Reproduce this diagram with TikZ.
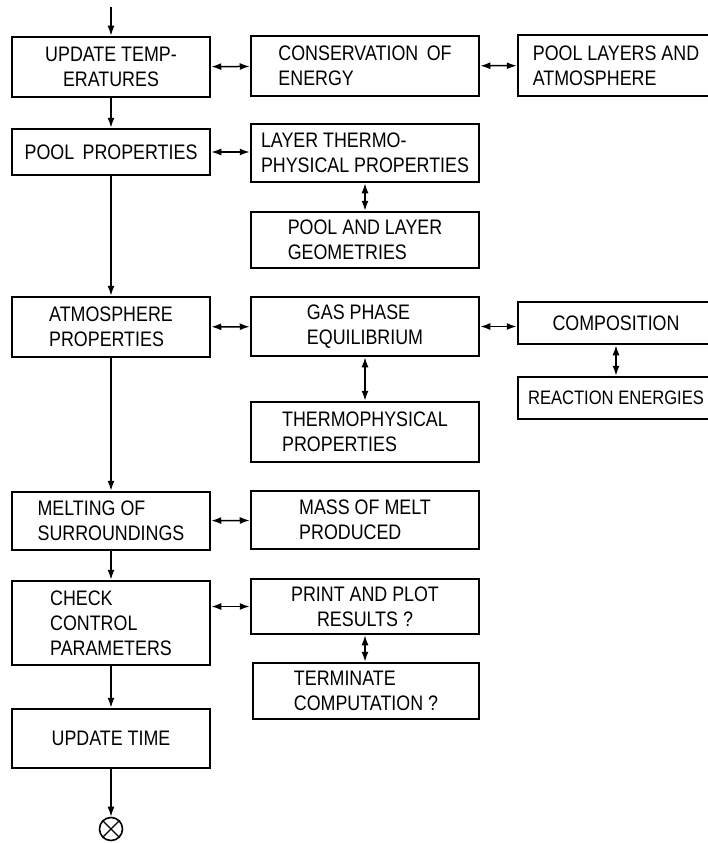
\documentclass[tikz,border=0pt]{standalone}
\usepackage{fontspec}
\setmainfont{Liberation Sans}[FakeStretch=0.85]
\usepackage{tikz}
\usetikzlibrary{arrows.meta}
\tikzstyle{box}=[draw=black,line width=2.5pt,inner sep=2pt,font=\fontsize{21}{25}\selectfont]
\tikzstyle{lbox}=[box,minimum width=198pt]
\tikzstyle{mbox}=[box,minimum width=228pt]
\tikzstyle{rbox}=[box,minimum width=196pt]
\tikzstyle{flow}=[line width=1.5pt,-{Latex[length=10pt,width=7pt]}]
\tikzstyle{both}=[line width=1.5pt,{Latex[length=10pt,width=7pt]}-{Latex[length=10pt,width=7pt]}]

\begin{document}
\begin{tikzpicture}[x=1pt, y=-1pt]
\useasboundingbox (0,0) rectangle (708,843);
\node[lbox, minimum height=60pt, align=center] (temps) at (111,67) {UPDATE TEMP-\\ERATURES};
\node[lbox, minimum height=46pt] (poolprop) at (111,152) {POOL\, PROPERTIES};
\node[lbox, minimum height=60pt, align=left] (atmprop) at (111,327) {ATMOSPHERE\\PROPERTIES};
\node[lbox, minimum height=58pt, align=left] (melting) at (111,521) {MELTING OF\\SURROUNDINGS};
\node[lbox, minimum height=84pt, align=left] (check) at (111,623) {CHECK\\CONTROL\\PARAMETERS};
\node[lbox, minimum height=59pt] (time) at (111,738.5) {UPDATE TIME};
\node[draw=black, line width=1.6pt, circle, minimum size=23pt, inner sep=0pt] (stop) at (111,829) {};
	\draw[line width=1.3pt] (stop.north east) -- (stop.south west);
	\draw[line width=1.3pt] (stop.north west) -- (stop.south east);
\coordinate (start) at (111,7);

\node[mbox, minimum height=60pt, align=left] (energy) at (365,66) {CONSERVATION\, OF\\ENERGY};
\node[mbox, minimum height=58pt, align=left] (layerprop) at (365,153) {LAYER THERMO-\\PHYSICAL PROPERTIES};
\node[mbox, minimum height=56pt, align=left] (geometry) at (365,240) {POOL AND LAYER\\GEOMETRIES};
\node[mbox, minimum height=59pt, align=left] (gasphase) at (365,326.5) {GAS PHASE\\EQUILIBRIUM};
\node[mbox, minimum height=60pt, align=left] (thermoprop) at (365,432) {THERMOPHYSICAL\\PROPERTIES};
\node[mbox, minimum height=58pt, align=left] (massmelt) at (365,520) {MASS OF MELT\\PRODUCED};
\node[mbox, minimum height=55pt, align=center] (printplot) at (365,606.5) {PRINT AND PLOT\\RESULTS ?};
\node[box, minimum width=226pt, minimum height=56pt, align=left] (terminate) at (366,691) {TERMINATE\\COMPUTATION ?};

\node[rbox, minimum height=61pt, align=left] (poollayers) at (616,65.5) {POOL LAYERS AND\\ATMOSPHERE};
\node[rbox, minimum height=42pt] (composition) at (616,323) {COMPOSITION};
\node[rbox, minimum height=42pt, font=\fontsize{19.5}{25}\selectfont] (reaction) at (616,398) {REACTION ENERGIES};

\draw[flow] (start) -- (temps);
\draw[flow] (temps) -- (poolprop);
\draw[flow] (poolprop) -- (atmprop);
\draw[flow] (atmprop) -- (melting);
\draw[flow] (melting) -- (check);
\draw[flow] (check) -- (time);
\draw[flow] (time) -- (stop);

\draw[both] (temps) -- (energy);
\draw[both] (energy) -- (poollayers);
\draw[both] (poolprop.east) -- (poolprop.east -| layerprop.west);
\draw[both] (layerprop) -- (geometry);
\draw[both] (atmprop) -- (gasphase);
\draw[both] (gasphase.east) -- (gasphase.east -| composition.west);
\draw[both] (composition) -- (reaction);
\draw[both] (gasphase) -- (thermoprop);
\draw[both] (melting) -- (massmelt);
\draw[both] (printplot.west -| check.east) -- (printplot.west);
\draw[both] (printplot.south) -- (printplot.south |- terminate.north);
\end{tikzpicture}
\end{document}
